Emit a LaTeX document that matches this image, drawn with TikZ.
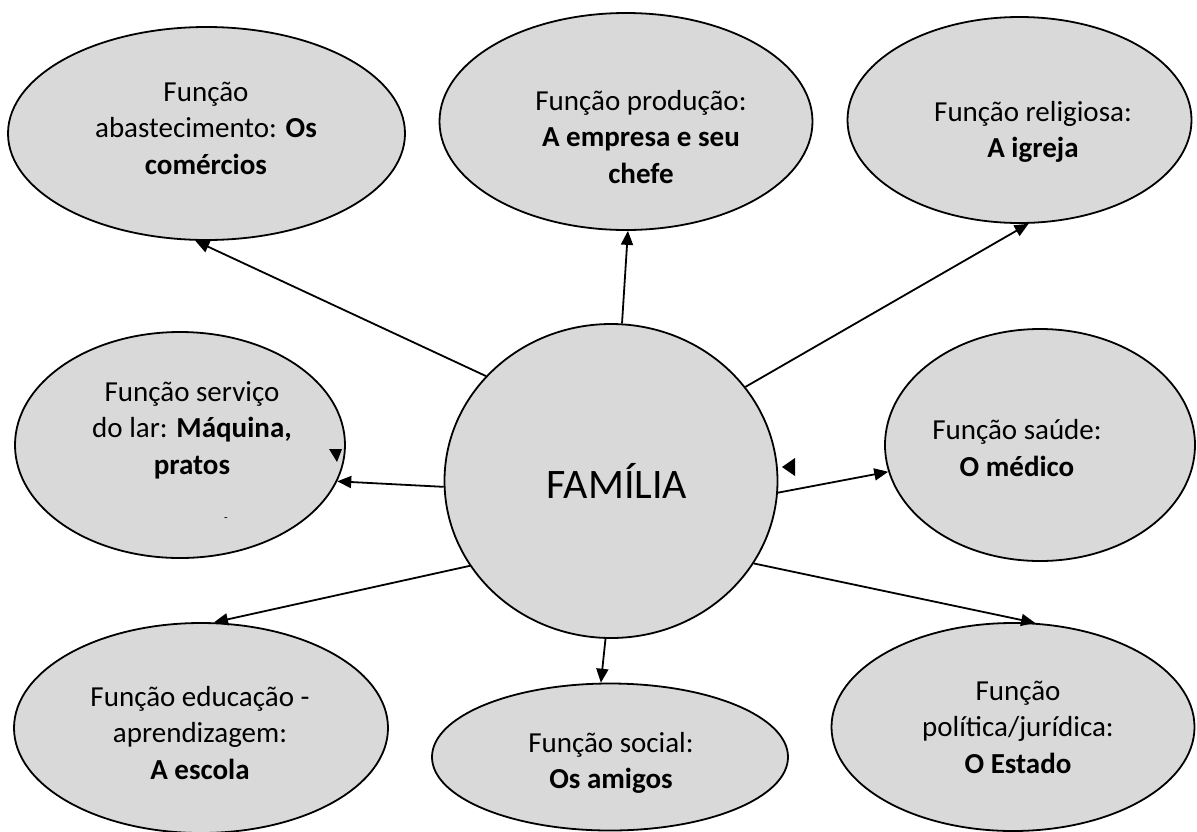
\documentclass[tikz,border=0pt]{standalone}
\usepackage{fontspec}
\setmainfont{Carlito}
\usetikzlibrary{shapes.geometric,arrows.meta}
\definecolor{bubblegray}{HTML}{D9D9D9}
\begin{document}
\begin{tikzpicture}[x=1pt,y=-1pt,
  bubble/.style={ellipse,draw=black,line width=1.8pt,fill=bubblegray,inner sep=0pt},
  txt/.style={align=center,font=\fontsize{29}{36.5}\selectfont,inner sep=0pt},
  link/.style={line width=1.8pt,-{Triangle[length=14pt,width=12pt]}},
  stray/.style={fill=black}]
\useasboundingbox (0,0) rectangle (1197,831);

% bubbles
\node[bubble,minimum width=397pt,minimum height=213pt] (abast) at (206.5,133.5) {};
\node[bubble,minimum width=373pt,minimum height=217pt] (prod) at (626,121.5) {};
\node[bubble,minimum width=344pt,minimum height=206pt] (relig) at (1019.5,120) {};
\node[bubble,minimum width=330pt,minimum height=226pt] (lar) at (180,445) {};
\node[bubble,minimum width=333pt,minimum height=314pt] (fam) at (611,481) {};
\node[bubble,minimum width=310pt,minimum height=232pt] (saude) at (1040,445) {};
\node[bubble,minimum width=374pt,minimum height=210pt] (educ) at (201,728) {};
\node[bubble,minimum width=356pt,minimum height=147pt] (social) at (610,757) {};
\node[bubble,minimum width=363pt,minimum height=208pt] (polit) at (1013,727) {};

% texts
\node[inner sep=0pt,font=\fontsize{42}{50}\selectfont] (tfam) at (617,481) {FAMÍLIA};
\node[txt] (tabast) at (206,128) {Função\\abastecimento: \textbf{Os}\\\textbf{comércios}};
\node[txt] (tprod) at (641,137) {Função produção:\\\textbf{A empresa e seu}\\\textbf{chefe}};
\node[txt] (trelig) at (1033,132) {Função religiosa:\\\textbf{A igreja}};
\node[txt] (tlar) at (192,430) {Função serviço\\do lar: \textbf{Máquina,}\\\textbf{pratos}};
\node[inner sep=0pt,font=\fontsize{12}{14}\selectfont] (dash) at (226,520) {-};
\node[txt] (tsaude) at (1017,448) {Função saúde:\\\textbf{O médico}};
\node[txt] (teduc) at (200,733) {Função educação -\\aprendizagem:\\\textbf{A escola}};
\node[txt] (tsocial) at (611,763) {Função social:\\\textbf{Os amigos}};
\node[txt] (tpolit) at (1018,727) {Função\\política/jurídica:\\\textbf{O Estado}};

% connectors
\draw[link] (fam.140.5) -- (abast.264.9);
\draw[link] (fam.86.7) -- (prod.271.1);
\draw[link] (fam.35.3) -- (relig.275.8);
\draw[link] (fam.182.1) -- (lar.347.2);
\draw[link] (fam.356.2) -- (saude.190.7);
\draw[link] (fam.211.4) -- (educ.83.4);
\draw[link] (fam.268.9) -- (social.97);
\draw[link] (fam.330.8) -- (polit.78.6);

% stray arrowheads
\fill[stray] (329,449) -- (342,449) -- (337,462) -- cycle;
\fill[stray] (782,467) -- (795,458) -- (795,476) -- cycle;
\end{tikzpicture}
\end{document}
